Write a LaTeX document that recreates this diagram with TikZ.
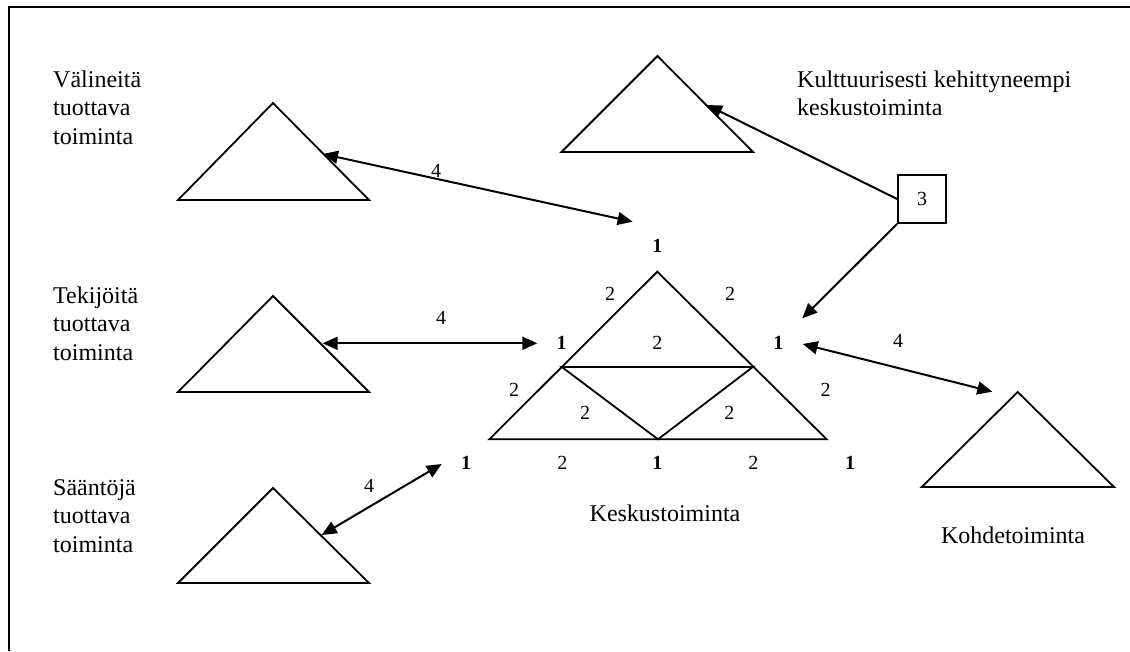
\documentclass[tikz,border=0pt]{standalone}
\usepackage{fontspec}
\setmainfont{Liberation Serif}
\usetikzlibrary{arrows.meta,calc}
\begin{document}
\begin{tikzpicture}[x=1pt,y=-1pt,
  tri/.style={line width=1.8pt, line join=miter},
  tip/.tip={Triangle[length=15pt,width=13pt]},
  link/.style={line width=2pt, -tip},
  duo/.style={line width=2pt, tip-tip},
  big/.style={font=\fontsize{24}{28.5}\selectfont, inner sep=0pt},
  num/.style={font=\fontsize{20}{24}\selectfont, inner sep=0pt},
  vert/.style={font=\fontsize{20}{24}\selectfont\bfseries, inner sep=0pt},
  box/.style={draw, line width=1.8pt, minimum width=48pt, minimum height=48pt, inner sep=0pt, font=\fontsize{20}{24}\selectfont},
]
\useasboundingbox (0,0) rectangle (1130,651);

% frame (top and left edges)
\draw[line width=2pt, line join=miter] (9,651) -- (9,7) -- (1130,7);

% surrounding activity systems
\coordinate (vA) at (273,103);   \coordinate (vL) at (178,200);   \coordinate (vR) at (369,200);
\coordinate (tA) at (273,296);   \coordinate (tL) at (178,392);   \coordinate (tR) at (369,392);
\coordinate (sA) at (273,488);   \coordinate (sL) at (178,583);   \coordinate (sR) at (369,583);
\coordinate (kA) at (657.5,56);  \coordinate (kL) at (561.5,152); \coordinate (kR) at (753,152);
\coordinate (oA) at (1017.7,392);\coordinate (oL) at (921.7,487); \coordinate (oR) at (1114,487);
\foreach \t in {v,t,s,k,o}
  \draw[tri] (\t L) -- (\t A) -- (\t R) -- cycle;

% central activity system
\coordinate (cA) at (657.3,271.7);
\coordinate (cL) at (489.3,439.3);
\coordinate (cR) at (826.7,439.3);
\coordinate (cML) at (561.8,367);
\coordinate (cMR) at (752.8,367);
\coordinate (cMB) at (658,439.3);
\draw[tri] (cL) -- (cA) -- (cR) -- cycle;
\draw[tri] (cML) -- (cMR) -- (cMB) -- cycle;

% texts
\node[big, anchor=base west] (vtext) at (53,87)
  {\begin{tabular}[t]{@{}l@{}}Välineitä\\tuottava\\toiminta\end{tabular}};
\node[big, anchor=base west] (ttext) at (53,303)
  {\begin{tabular}[t]{@{}l@{}}Tekijöitä\\tuottava\\toiminta\end{tabular}};
\node[big, anchor=base west] (stext) at (53,495)
  {\begin{tabular}[t]{@{}l@{}}Sääntöjä\\tuottava\\toiminta\end{tabular}};
\node[big, anchor=base west] (ktext) at (797,87)
  {\begin{tabular}[t]{@{}l@{}}Kulttuurisesti kehittyneempi\\keskustoiminta\end{tabular}};
\node[big, anchor=base] (ctext) at (665,521) {Keskustoiminta};
\node[big, anchor=base] (otext) at (1013,543) {Kohdetoiminta};

% corner and edge markers of the central triangle
\node[vert] (n1t) at (657.3,246) {1};
\node[num]  (n2a) at (610,294) {2};
\node[num]  (n2b) at (730,294) {2};
\node[vert] (n1l) at (561.7,342.7) {1};
\node[num]  (n2c) at (657.3,342.7) {2};
\node[vert] (n1r) at (778.3,342.7) {1};
\node[num]  (n2d) at (514,390) {2};
\node[num]  (n2e) at (825.7,390) {2};
\node[num]  (n2f) at (585,413.3) {2};
\node[num]  (n2g) at (729.3,413.3) {2};
\node[vert] (n1a) at (466,462.7) {1};
\node[num]  (n2h) at (562.3,462.7) {2};
\node[vert] (n1b) at (657.3,462.7) {1};
\node[num]  (n2i) at (753.3,462.7) {2};
\node[vert] (n1c) at (850,462.7) {1};

% contradiction labels
\node[num] (q1) at (436,171) {4};
\node[num] (q2) at (441,317.7) {4};
\node[num] (q3) at (369,486) {4};
\node[num] (q4) at (898,341) {4};
\node[box] (b3) at (922,199) {3};

% connector end points
\coordinate (vHit) at (323,154);
\coordinate (cTop) at (632.6,221.7);
\coordinate (tHit) at (322.7,343.3);
\coordinate (cLeft) at (537.3,343.3);
\coordinate (sHit) at (321.7,535);
\coordinate (cLow) at (441.7,464);
\coordinate (cRight) at (802.7,344);
\coordinate (oHit) at (992.3,391.7);
\coordinate (kHit) at (707,105);
\coordinate (cUp) at (802.3,318.3);

% connectors
\draw[duo] (vHit) -- (cTop);
\draw[duo] (tHit) -- (cLeft);
\draw[duo] (sHit) -- (cLow);
\draw[duo] (cRight) -- (oHit);
\draw[link] (b3.west) -- (kHit);
\draw[link] (b3.south west) -- (cUp);
\end{tikzpicture}
\end{document}
